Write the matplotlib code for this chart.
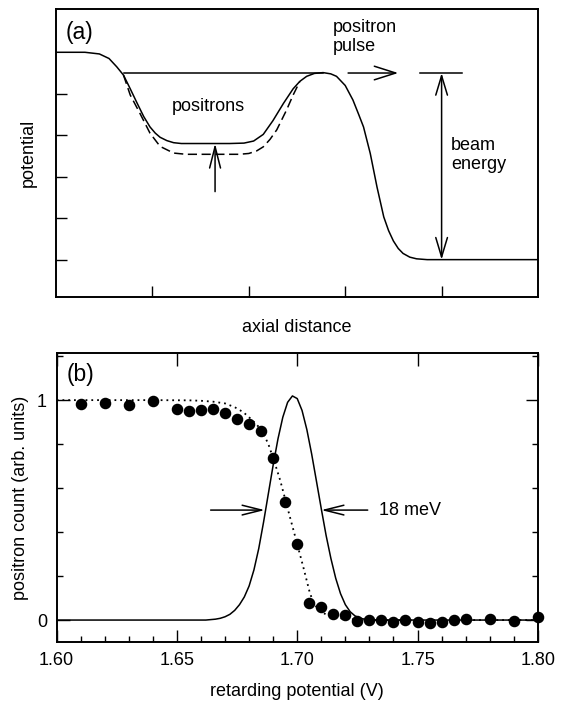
import matplotlib
matplotlib.use("Agg")
import matplotlib.pyplot as plt
from matplotlib.ticker import MultipleLocator, FixedLocator, NullFormatter

plt.rcParams['font.family'] = ['Liberation Sans', 'DejaVu Sans']
plt.rcParams['font.size'] = 13

# ---------------- panel (a) data: potential vs axial distance ----------------
a_x_solid = [0.0, 0.30, 0.45, 0.55, 0.63, 0.70, 0.77, 0.84, 0.91, 0.975, 1.03, 1.08,
             1.15, 1.22, 1.30, 1.40, 1.80, 1.95, 2.05, 2.15, 2.25, 2.36, 2.46, 2.53,
             2.60, 2.68, 2.77, 2.85, 2.91, 3.00, 3.08, 3.14, 3.19, 3.26, 3.33, 3.40,
             3.45, 3.50, 3.55, 3.60, 3.67, 3.74, 3.85, 5.00]
a_v_solid = [6.00, 6.00, 5.96, 5.85, 5.65, 5.45, 5.12, 4.78, 4.45, 4.20, 4.05, 3.95,
             3.87, 3.82, 3.80, 3.80, 3.80, 3.81, 3.86, 4.02, 4.35, 4.77, 5.12, 5.30,
             5.42, 5.49, 5.51, 5.48, 5.42, 5.20, 4.85, 4.50, 4.20, 3.56, 2.75, 2.03,
             1.70, 1.45, 1.27, 1.15, 1.06, 1.02, 1.00, 1.00]
a_x_dashed = [0.70, 0.77, 0.87, 0.975, 1.08, 1.22, 1.35, 1.90, 2.00, 2.08, 2.15, 2.22,
              2.29, 2.39, 2.46, 2.53]
a_v_dashed = [5.45, 4.97, 4.53, 4.05, 3.73, 3.57, 3.54, 3.54, 3.56, 3.62, 3.72, 3.90,
              4.13, 4.60, 4.97, 5.30]
a_xticks = [1, 2, 3, 4]
a_yticks = [1, 2, 3, 4, 5]
pulse_level = 5.5
pulse_line_x = [0.71, 2.77]
pulse_arrow_x = [3.03, 3.55]
beam_line_x = [3.776, 4.21]
beam_arrow_x = 4.0
beam_low = 1.0
well_arrow_x = 1.65
well_arrow_v = [2.64, 3.80]

# ---------------- panel (b) data: positron count vs retarding potential ----------------
b_volt = [1.61, 1.62, 1.63, 1.64, 1.65, 1.655, 1.66, 1.665, 1.67, 1.675, 1.68, 1.685,
          1.69, 1.695, 1.70, 1.705, 1.71, 1.715, 1.72, 1.725, 1.73, 1.735, 1.74, 1.745,
          1.75, 1.755, 1.76, 1.765, 1.77, 1.78, 1.79, 1.80]
b_count = [0.983, 0.986, 0.980, 0.995, 0.960, 0.949, 0.955, 0.960, 0.940, 0.912, 0.892, 0.860,
           0.739, 0.535, 0.345, 0.078, 0.060, 0.026, 0.022, -0.003, 0.000, 0.000, -0.010, 0.000,
           -0.010, -0.015, -0.010, 0.000, 0.007, 0.005, -0.006, 0.012]
fit_volt = [1.600, 1.640, 1.655, 1.660, 1.665, 1.670, 1.674, 1.6776, 1.681, 1.6852,
            1.688, 1.6905, 1.6929, 1.6973, 1.700, 1.7025, 1.7053, 1.707, 1.709, 1.712,
            1.716, 1.720, 1.730, 1.800]
fit_count = [1.000, 1.000, 0.999, 0.997, 0.993, 0.985, 0.968, 0.945, 0.912, 0.865,
             0.800, 0.720, 0.636, 0.455, 0.345, 0.242, 0.121, 0.075, 0.045, 0.025,
             0.012, 0.005, 0.000, 0.000]
dist_volt = [1.600, 1.662, 1.664, 1.666, 1.668, 1.670, 1.672, 1.674, 1.676, 1.678,
             1.680, 1.682, 1.684, 1.686, 1.688, 1.690, 1.692, 1.694, 1.696, 1.698,
             1.700, 1.702, 1.704, 1.706, 1.708, 1.710, 1.712, 1.714, 1.716, 1.718,
             1.720, 1.722, 1.724, 1.726, 1.728, 1.730, 1.733, 1.800]
dist_count = [0.000, 0.000, 0.002, 0.004, 0.008, 0.015, 0.026, 0.044, 0.070, 0.105,
              0.155, 0.228, 0.325, 0.445, 0.575, 0.705, 0.824, 0.922, 0.990, 1.019,
              1.007, 0.953, 0.866, 0.755, 0.631, 0.506, 0.385, 0.280, 0.190, 0.120,
              0.070, 0.038, 0.019, 0.009, 0.004, 0.001, 0.000, 0.000]
fwhm_left = [1.664, 1.6865]
fwhm_right = [1.7293, 1.7100]
fwhm_level = 0.50
b_yticks_major = [0, 1]
b_yticklabels = ['0', '1']
b_xticks = [1.60, 1.65, 1.70, 1.75, 1.80]
b_xticklabels = ['1.60', '1.65', '1.70', '1.75', '1.80']

fig = plt.figure(figsize=(5.64, 7.04), dpi=100)
axa = fig.add_axes([0.0993, 0.578, 0.8546, 0.409])
axb = fig.add_axes([0.1005, 0.088, 0.8530, 0.4105])

lw = 1.1
# ---- panel a ----
axa.plot(a_x_solid, a_v_solid, color='black', lw=lw)
axa.plot(a_x_dashed, a_v_dashed, color='black', lw=lw, dashes=(6, 3))
axa.plot(pulse_line_x, [pulse_level, pulse_level], color='black', lw=lw)
axa.plot(beam_line_x, [pulse_level, pulse_level], color='black', lw=lw)
arrowkw = dict(color='black', lw=1.1, shrinkA=0, shrinkB=0)
axa.annotate('', xy=(pulse_arrow_x[1], pulse_level), xytext=(pulse_arrow_x[0], pulse_level),
             arrowprops=dict(arrowstyle='->,head_length=1.1,head_width=0.35', mutation_scale=14, **arrowkw))
axa.annotate('', xy=(beam_arrow_x, beam_low), xytext=(beam_arrow_x, pulse_level),
             arrowprops=dict(arrowstyle='<->,head_length=1.0,head_width=0.3', mutation_scale=14, **arrowkw))
axa.annotate('', xy=(well_arrow_x, well_arrow_v[1]), xytext=(well_arrow_x, well_arrow_v[0]),
             arrowprops=dict(arrowstyle='->,head_length=1.1,head_width=0.28', mutation_scale=14, **arrowkw))
axa.text(0.019, 0.92, '(a)', transform=axa.transAxes, ha='left', va='center', fontsize=16.5)
axa.text(1.577, 4.70, 'positrons', ha='center', va='center')
axa.text(2.87, 6.37, 'positron\npulse', ha='left', va='center', linespacing=1.1)
axa.text(4.10, 3.52, 'beam\nenergy', ha='left', va='center', linespacing=1.1)
axa.set_xlim(0, 5)
axa.set_ylim(0.097, 7.04)
axa.xaxis.set_major_locator(FixedLocator(a_xticks))
axa.yaxis.set_major_locator(FixedLocator(a_yticks))
axa.xaxis.set_major_formatter(NullFormatter())
axa.yaxis.set_major_formatter(NullFormatter())
axa.tick_params(direction='in', length=8, width=1.0, top=False, right=False)
axa.set_xlabel('axial distance')
axa.set_ylabel('potential')
axa.xaxis.set_label_coords(0.5, -0.075)
axa.yaxis.set_label_coords(-0.040, 0.5)

# ---- panel b ----
axb.plot(dist_volt, dist_count, color='black', lw=lw, zorder=2)
axb.plot(fit_volt, fit_count, color='black', lw=1.3, linestyle=(0, (1, 2.2)), zorder=2)
axb.plot(b_volt, b_count, 'o', color='black', ms=7.3, zorder=3, clip_on=False)
axb.annotate('', xy=(fwhm_left[1], fwhm_level), xytext=(fwhm_left[0], fwhm_level),
             arrowprops=dict(arrowstyle='->,head_length=1.4,head_width=0.35', mutation_scale=10, **arrowkw))
axb.annotate('', xy=(fwhm_right[1], fwhm_level), xytext=(fwhm_right[0], fwhm_level),
             arrowprops=dict(arrowstyle='->,head_length=1.4,head_width=0.35', mutation_scale=10, **arrowkw))
axb.text(1.7338, fwhm_level, '18 meV', ha='left', va='center')
axb.text(0.021, 0.927, '(b)', transform=axb.transAxes, ha='left', va='center', fontsize=16.5)
axb.set_xlim(1.60, 1.80)
axb.set_ylim(-0.1, 1.214)
axb.xaxis.set_minor_locator(MultipleLocator(0.01))
axb.yaxis.set_major_locator(FixedLocator(b_yticks_major))
axb.yaxis.set_minor_locator(MultipleLocator(0.2))
axb.set_yticklabels(b_yticklabels)
axb.set_xticks(b_xticks)
axb.set_xticklabels(b_xticklabels)
axb.tick_params(which='major', direction='in', length=9, width=1.0, pad=7, top=True, right=True)
axb.tick_params(which='minor', direction='in', length=4, width=1.0, top=False, right=True, left=True)
axb.set_xlabel('retarding potential (V)')
axb.set_ylabel('positron count (arb. units)')
axb.xaxis.set_label_coords(0.5, -0.142)
axb.yaxis.set_label_coords(-0.057, 0.5)

for ax in (axa, axb):
    for s in ax.spines.values():
        s.set_linewidth(1.4)

fig.savefig('out.png', dpi=100)
